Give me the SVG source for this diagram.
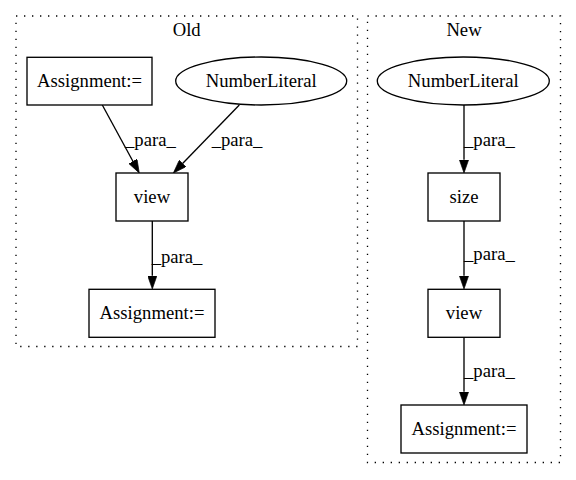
<svg xmlns="http://www.w3.org/2000/svg" width="576" height="480" viewBox="0 0 576 480">
<style>
text { font-family: "Liberation Serif", "Times New Roman", serif; font-size: 18.67px; fill: #000; }
.node { fill: #fff; stroke: #000; stroke-width: 1.33; }
.cluster { fill: none; stroke: #000; stroke-width: 1.33; stroke-dasharray: 1.33 6.67; }
.edge { stroke: #000; stroke-width: 1.33; fill: none; marker-end: url(#arrow); }
.mid { text-anchor: middle; }
</style>
<defs>
<marker id="arrow" viewBox="0 0 10 7" markerWidth="13.3" markerHeight="9.3" refX="0" refY="3.5" orient="auto" markerUnits="userSpaceOnUse">
<path d="M0,0 L10,3.5 L0,7 z" fill="#000" stroke="#000" stroke-width="0.5"/>
</marker>
</defs>
<rect width="576" height="480" fill="#fff"/>
<g id="cluster_old">
<rect class="cluster" x="16" y="16" width="341.5" height="330.5"/>
<text class="mid" x="186.7" y="36">Old</text>
</g>
<g id="cluster_new">
<rect class="cluster" x="367.5" y="16" width="193" height="446.5"/>
<text class="mid" x="464" y="36">New</text>
</g>
<g id="edges">
<path class="edge" d="M102.3,105 L132.9,161.3"/>
<text x="125" y="146">_para_</text>
<path class="edge" d="M239.3,105 L182.6,163.5"/>
<text x="211.7" y="146">_para_</text>
<path class="edge" d="M152.3,221 L152.3,275.7"/>
<text x="151.7" y="263">_para_</text>
<path class="edge" d="M464,105 L464,159.7"/>
<text x="464" y="146">_para_</text>
<path class="edge" d="M464,221 L464,275.7"/>
<text x="464" y="260">_para_</text>
<path class="edge" d="M464,337 L464,391.7"/>
<text x="464" y="377">_para_</text>
</g>
<g id="old_assign1">
<rect class="node" x="27" y="57.3" width="125" height="47.7"/>
<text class="mid" x="89.5" y="86.7">Assignment:=</text>
</g>
<g id="old_number">
<ellipse class="node" cx="261.2" cy="81" rx="85.5" ry="24"/>
<text class="mid" x="261.2" y="86.7">NumberLiteral</text>
</g>
<g id="old_view">
<rect class="node" x="116" y="173" width="72" height="48"/>
<text class="mid" x="152" y="202.6">view</text>
</g>
<g id="old_assign2">
<rect class="node" x="89" y="289.3" width="126" height="48"/>
<text class="mid" x="152" y="318.9">Assignment:=</text>
</g>
<g id="new_number">
<ellipse class="node" cx="463.3" cy="81" rx="86" ry="24"/>
<text class="mid" x="463.3" y="86.7">NumberLiteral</text>
</g>
<g id="new_size">
<rect class="node" x="428" y="173" width="72" height="48"/>
<text class="mid" x="464" y="202.6">size</text>
</g>
<g id="new_view">
<rect class="node" x="428" y="289.3" width="72" height="48"/>
<text class="mid" x="464" y="318.9">view</text>
</g>
<g id="new_assign">
<rect class="node" x="401" y="405" width="126" height="48"/>
<text class="mid" x="464" y="434.6">Assignment:=</text>
</g>
</svg>
